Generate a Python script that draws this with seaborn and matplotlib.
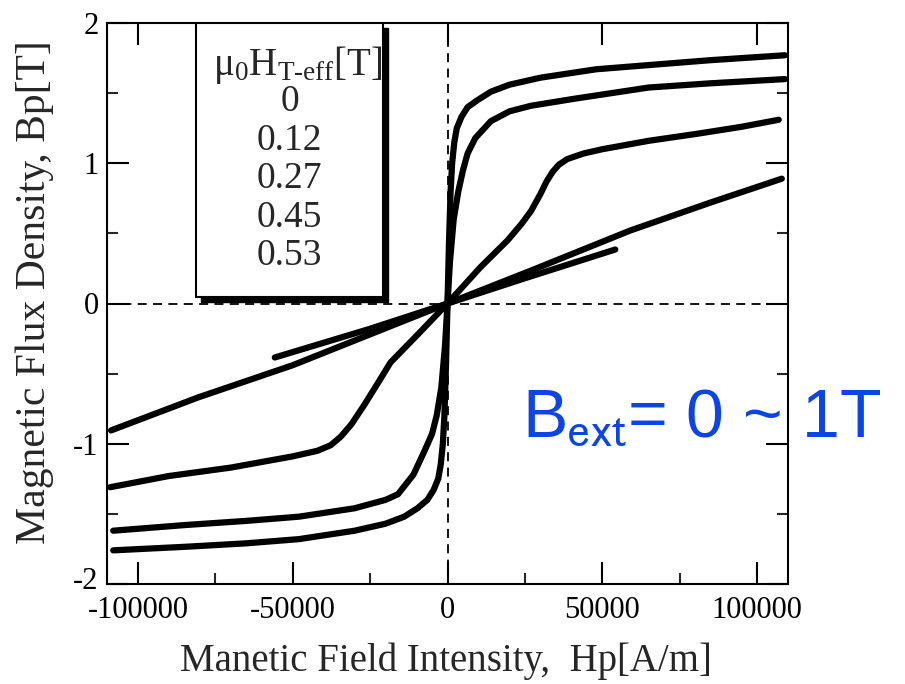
import numpy as np
import pandas as pd
import matplotlib
matplotlib.use("Agg")
import matplotlib.pyplot as plt
import matplotlib.transforms as mtransforms
import seaborn as sns
from matplotlib.patches import Rectangle
from matplotlib.ticker import MultipleLocator

# ---- data (H in A/m, B in T) ----
legend_values = ["0", "0.12", "0.27", "0.45", "0.53"]

H_0 = [-108000, -85000, -65000, -48000, -30000, -20000, -14000, -9700, -6500, -4500,
       -3000, -2200, -1500, -1000, -500, 0,
       500, 1000, 1500, 2200, 3000, 4500, 6500, 9700, 14000, 20000, 30000, 48000,
       65000, 85000, 109000]
B_0 = [-1.76, -1.735, -1.71, -1.68, -1.62, -1.57, -1.52, -1.46, -1.40, -1.33,
       -1.25, -1.15, -1.00, -0.80, -0.45, 0.0,
       0.45, 0.80, 1.00, 1.15, 1.25, 1.33, 1.40, 1.45, 1.51, 1.56, 1.61, 1.67,
       1.70, 1.735, 1.77]

H_12 = [-108000, -85000, -65000, -48000, -30000, -20000, -16000, -11000, -7400, -5000,
        -3500, -2000, -800, 0,
        800, 2000, 3500, 5000, 6500, 9000, 14000, 20000, 27000, 41000, 65000, 85000, 109000]
B_12 = [-1.62, -1.58, -1.55, -1.52, -1.46, -1.40, -1.36, -1.22, -1.05, -0.93,
        -0.80, -0.60, -0.30, 0.0,
        0.30, 0.60, 0.80, 0.95, 1.07, 1.18, 1.30, 1.37, 1.41, 1.46, 1.54, 1.57, 1.60]

H_27 = [-109000, -90000, -70000, -50000, -42000, -37700, -34500, -31000, -26800, -22000,
        -18400, -10000, 0,
        10700, 19400, 24000, 27000, 30000, 32000, 34000, 36000, 38700, 44000, 50000,
        65000, 80600, 95000, 107000]
B_27 = [-1.31, -1.23, -1.17, -1.09, -1.05, -1.01, -0.95, -0.86, -0.72, -0.55,
        -0.42, -0.23, 0.0,
        0.26, 0.45, 0.57, 0.66, 0.78, 0.87, 0.94, 0.99, 1.03, 1.07, 1.10,
        1.16, 1.21, 1.26, 1.31]

H_45 = [-108700, -80600, -50000, -25000, 0, 27000, 59000, 85000, 108000]
B_45 = [-0.905, -0.67, -0.44, -0.22, 0.0, 0.235, 0.52, 0.72, 0.89]

H_53 = [-55800, -25000, 0, 25000, 54200]
B_53 = [-0.385, -0.18, 0.0, 0.18, 0.385]

series = [("0", H_0, B_0), ("0.12", H_12, B_12), ("0.27", H_27, B_27),
          ("0.45", H_45, B_45), ("0.53", H_53, B_53)]
frames = []
for name, h, b in series:
    frames.append(pd.DataFrame({"H": h, "B": b, "mu0H": name}))
df = pd.concat(frames, ignore_index=True)

x_ticks = [-100000, -50000, 0, 50000, 100000]
y_ticks = [-2, -1, 0, 1, 2]

# ---- styling ----
sns.set_theme(style="white")
plt.rcParams["font.family"] = ["Liberation Serif", "DejaVu Serif"]
plt.rcParams["mathtext.fontset"] = "custom"
plt.rcParams["mathtext.rm"] = "Liberation Serif"
plt.rcParams["mathtext.it"] = "Liberation Serif:italic"
plt.rcParams["mathtext.bf"] = "Liberation Serif:bold"

fig = plt.figure(figsize=(9.05, 6.84), dpi=100)
ax = fig.add_axes([107 / 905, 1 - 584 / 684, 681 / 905, 561 / 684])

ax.axhline(0, color="black", lw=1.3, ls=(0, (5, 3.5)), zorder=1)
ax.axvline(0, color="black", lw=1.3, ls=(0, (5, 3.5)), zorder=1)

sns.lineplot(data=df, x="H", y="B", hue="mu0H", units="mu0H", estimator=None,
             sort=False, palette=["black"] * 5, lw=4.5, legend=False, ax=ax, zorder=3)

ax.set_xlim(-110000, 110000)
ax.set_ylim(-2, 2)
ax.set_xticks(x_ticks)
ax.set_xticklabels([str(v) for v in x_ticks])
ax.set_yticks(y_ticks)
ax.set_yticklabels([str(v) for v in y_ticks])
ax.xaxis.set_minor_locator(MultipleLocator(25000))
ax.yaxis.set_minor_locator(MultipleLocator(0.5))
ax.tick_params(which="major", direction="in", length=16, width=1.5, labelsize=22,
               top=True, right=True, bottom=True, left=True, pad=6, colors="black")
ax.tick_params(axis="x", which="major", pad=9)
ax.tick_params(which="minor", direction="in", length=8, width=1.5,
               top=False, right=True, bottom=True, left=True)
for s in ax.spines.values():
    s.set_linewidth(1.5)
    s.set_color("black")

# nudge the lowest y tick label up a little so it clears the x tick labels
lowest = ax.get_yticklabels()[0]
lowest.set_transform(lowest.get_transform() +
                     mtransforms.ScaledTranslation(0, 4 / 72, fig.dpi_scale_trans))

ax.set_xlabel("Manetic Field Intensity,  Hp[A/m]", fontsize=28)
ax.set_ylabel("Magnetic Flux Density, Bp[T]", fontsize=30)
ax.xaxis.set_label_coords((446 - 107) / 681, (584 - 642) / 561)
ax.yaxis.set_label_coords((54 - 107) / 681, (584 - 292) / 561)

# legend-like box with shadow
bx0, bx1, by0, by1 = (196 - 107) / 681, (383 - 107) / 681, (584 - 297) / 561, 1.0
sh = 5 / 681
ax.add_patch(Rectangle((bx0 + sh, by0 - 5 / 561), bx1 - bx0, by1 - by0, transform=ax.transAxes,
                       facecolor="black", edgecolor="black", zorder=5, clip_on=False))
ax.add_patch(Rectangle((bx0, by0), bx1 - bx0, by1 - by0, transform=ax.transAxes,
                       facecolor="white", edgecolor="black", lw=1.5, zorder=6))
cx = (bx0 + bx1) / 2
ax.text(cx + 8 / 681, (584 - 65) / 561, "μ$_0$H$_{\\mathrm{T\u2010eff}}$[T]", transform=ax.transAxes,
        ha="center", va="center", fontsize=28, zorder=7)
for i, v in enumerate(legend_values):
    ax.text(cx, (584 - (102 + 38.5 * i)) / 561, v, transform=ax.transAxes,
            ha="center", va="center", fontsize=27, zorder=7)

# blue annotation
fig.text(522 / 905, 1 - 437 / 684, "B$_{\\mathrm{ext}}$= 0 ~ 1T", fontsize=49,
         color="#0d44e6", family="Liberation Sans", math_fontfamily="stixsans",
         ha="left", va="baseline")

fig.savefig("out.png", dpi=100, facecolor="white")
